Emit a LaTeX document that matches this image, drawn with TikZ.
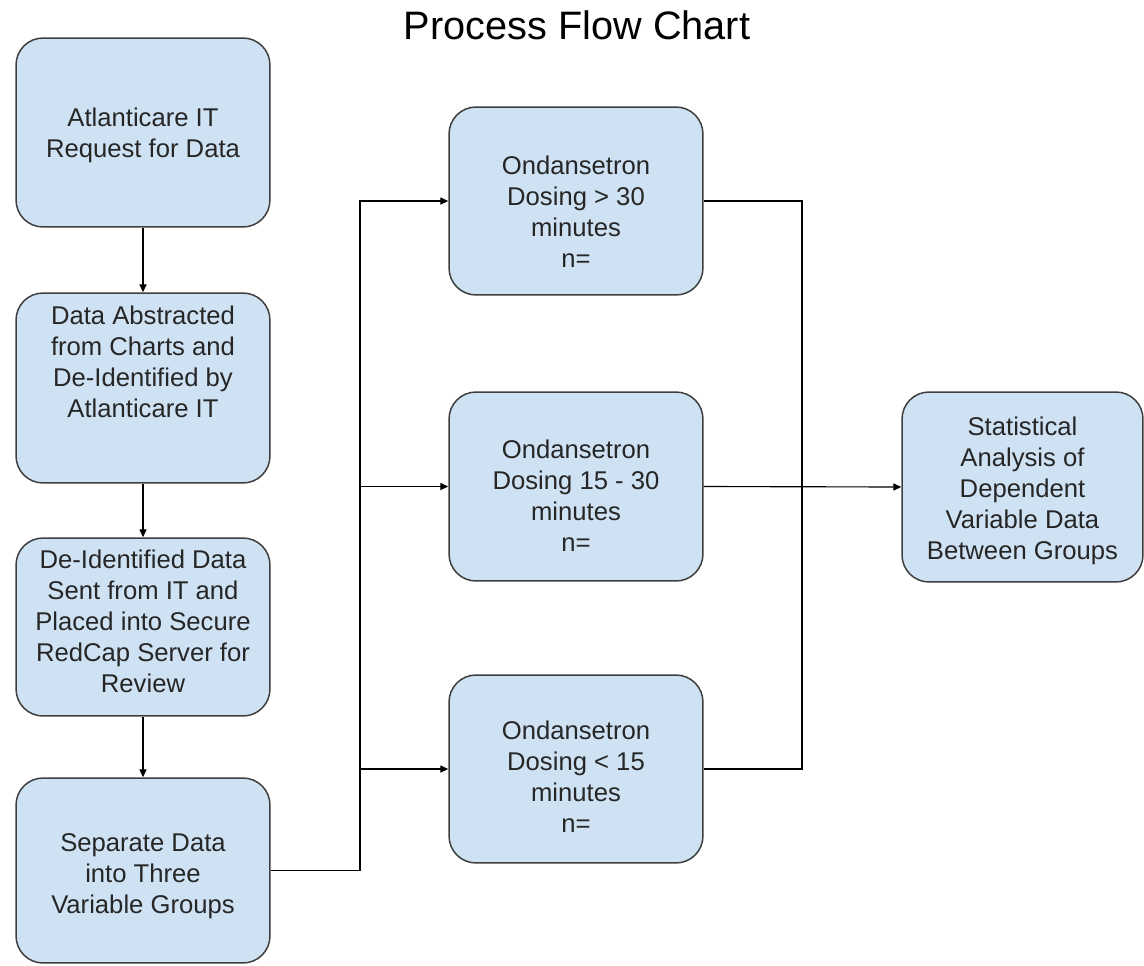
\documentclass[tikz,border=0pt]{standalone}
\usepackage{fontspec}
\setmainfont{Liberation Sans}
\usetikzlibrary{arrows.meta}

\definecolor{boxfill}{HTML}{CFE2F3}
\definecolor{boxedge}{HTML}{3F3F3F}

\tikzset{
  stepbox/.style={draw=boxedge, fill=boxfill, line width=0.85pt,
    rounded corners=0.54cm, minimum width=5.08cm, inner sep=0pt},
  boxtext/.style={align=center, inner sep=0pt, text=black!85,
    font=\fontsize{14.6}{17.6}\selectfont},
  heading/.style={inner sep=0pt, font=\fontsize{22.6}{27}\selectfont},
  link/.style={draw=black, line width=0.65pt},
  arrow/.style={link, -{Triangle[length=4.5pt, width=4pt]}}
}

\begin{document}
\begin{tikzpicture}[x=0.02cm, y=-0.02cm]
  \useasboundingbox[fill=white] (0,0) rectangle (1144,965);

  % title
  \node[heading, anchor=base] (title) at (577,39) {Process Flow Chart};

  % left column
  \node[stepbox, minimum height=3.78cm] (b1) at (143,132.5) {};
  \node[boxtext] (t1) at (143,135) {Atlanticare IT\\Request for Data};

  \node[stepbox, minimum height=3.80cm] (b2) at (143,388) {};
  \node[boxtext] (t2) at (143,362) {Data Abstracted\\from Charts and\\De-Identified by\\Atlanticare IT};

  \node[stepbox, minimum height=3.56cm] (b3) at (143,627) {};
  \node[boxtext] (t3) at (143,621) {De-Identified Data\\Sent from IT and\\Placed into Secure\\RedCap Server for\\Review};

  \node[stepbox, minimum height=3.70cm] (b4) at (143,870.5) {};
  \node[boxtext] (t4) at (143,876) {Separate Data\\into Three\\Variable Groups};

  % middle column
  \node[stepbox, minimum height=3.76cm] (m1) at (576,201) {};
  \node[boxtext] (tm1) at (576,212) {Ondansetron\\Dosing > 30\\minutes\\n=};

  \node[stepbox, minimum height=3.78cm] (m2) at (576,486.5) {};
  \node[boxtext] (tm2) at (576,496) {Ondansetron\\Dosing 15 - 30\\minutes\\n=};

  \node[stepbox, minimum height=3.76cm] (m3) at (576,769) {};
  \node[boxtext] (tm3) at (576,777) {Ondansetron\\Dosing < 15\\minutes\\n=};

  % result
  \node[stepbox, minimum width=4.82cm, minimum height=3.80cm] (res) at (1022.5,487) {};
  \node[boxtext] (tr) at (1022.5,491) {Statistical\\Analysis of\\Dependent\\Variable Data\\Between Groups};

  % branch and merge lines
  \coordinate (split) at (360,0);
  \coordinate (merge) at (802,0);

  % vertical chain
  \draw[arrow] (b1.south) -- (b2.north);
  \draw[arrow] (b2.south) -- (b3.north);
  \draw[arrow] (b3.south) -- (b4.north);

  % split into the three groups
  \draw[link] (b4.east) -- (b4.east -| split);
  \draw[arrow] (b4.east -| split) |- (m1.west);
  \draw[arrow] (split |- m2.west) -- (m2.west);
  \draw[arrow] (split |- m3.west) -- (m3.west);

  % merge into the analysis
  \draw[link] (m1.east) -| (merge |- m2.east);
  \draw[link] (m3.east) -| (merge |- m2.east);
  \draw[arrow] (m2.east) -- (res.west);
\end{tikzpicture}
\end{document}
